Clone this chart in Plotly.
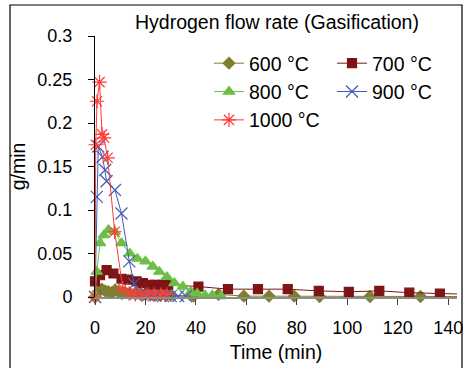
import plotly.graph_objects as go

# ---- data ----
t600 = [0, 1.3, 2.7, 4, 5.3, 6.7, 8, 9.3, 10.7, 12, 14, 16, 18, 20, 22, 24, 26, 28, 30, 39, 49, 59, 69, 79, 89, 109, 129, 150]
y600 = [0, 0.006, 0.009, 0.007, 0.006, 0.005, 0.008, 0.006, 0.004, 0.005, 0.004, 0.004, 0.003, 0.003, 0.003,
        0.002, 0.002, 0.002, 0.002, 0.001, 0.003, 0.001, 0.001, 0.001, 0.0005, 0.0005, 0.0005, 0.0005]

t700 = [0, 2, 4.6, 7.3, 10.5, 13.2, 16.5, 19, 21.5, 24, 26.5, 29, 41, 52.7, 64.6, 76.4, 88.7, 100.6, 112.7, 124.6, 136.7, 150]
y700 = [0.018, 0.025, 0.031, 0.027, 0.021, 0.02, 0.018, 0.016, 0.014, 0.014, 0.014, 0.014, 0.012, 0.009,
        0.009, 0.009, 0.007, 0.006, 0.007, 0.005, 0.004, 0.003]

t800 = [0, 0.7, 2, 3.5, 5.3, 7.8, 10.5, 13.8, 16.8, 20, 22.9, 25.5, 28.5, 31.5, 34.8, 38, 40.5, 43.6, 46.5, 50]
y800 = [0.002, 0.029, 0.062, 0.071, 0.077, 0.075, 0.062, 0.05, 0.044, 0.041, 0.035, 0.029, 0.023, 0.016,
        0.012, 0.006, 0.004, 0.002, 0.002, 0.001]

t900 = [0, 0.7, 1.3, 3, 4, 4.6, 7.9, 10.5, 13.6, 15.5, 18, 21, 24, 27, 30, 33, 36]
y900 = [0, 0.115, 0.173, 0.161, 0.146, 0.133, 0.123, 0.096, 0.041, 0.015, 0.004, 0.002, 0.002, 0.001,
        0.001, 0.001, 0.001]

t1000 = [0, 0.3, 0.8, 1.8, 2.8, 3.6, 5, 7.8, 11, 13.5, 16, 18.5, 21, 23.5, 26, 28.5]
y1000 = [0, 0.175, 0.225, 0.247, 0.187, 0.183, 0.16, 0.075, 0.01, 0.004, 0.003, 0.003, 0.003, 0.003, 0.003, 0.003]

x_ticks = [0, 20, 40, 60, 80, 100, 120, 140]
y_ticks = [0, 0.05, 0.1, 0.15, 0.2, 0.25, 0.3]
y_tick_text = ["0", "0.05", "0.1", "0.15", "0.2", "0.25", "0.3"]

FONT = "Liberation Sans, Arial, sans-serif"

series = [
    ("600 °C", t600, y600, "#7f7f2f", "diamond", 9, "legend"),
    ("700 °C", t700, y700, "#7f1416", "square", 9, "legend2"),
    ("800 °C", t800, y800, "#6cbf45", "triangle-up", 10, "legend"),
    ("900 °C", t900, y900, "#3f5bb5", "x-thin-open", 12, "legend2"),
    ("1000 °C", t1000, y1000, "#ff3b3b", "asterisk-open", 12, "legend"),
]

fig = go.Figure()
for name, xs, ys, col, sym, sz, lg in series:
    fig.add_trace(go.Scatter(
        x=xs, y=ys, name=name, mode="lines+markers",
        line=dict(color=col, width=1),
        marker=dict(symbol=sym, size=sz, color=col, line=dict(color=col, width=1.2)),
        cliponaxis=False, legend=lg,
    ))

W, H = 464, 368
L, R, T, B = 95, 7, 36, 71
pw, ph = W - L - R, H - T - B


def px(x):
    return (x - L) / pw


def py(y):
    return (H - B - y) / ph


fig.update_layout(
    width=W, height=H,
    margin=dict(l=L, r=R, t=T, b=B, pad=0, autoexpand=False),
    paper_bgcolor="white", plot_bgcolor="white",
    font=dict(family=FONT, size=18, color="black"),
    showlegend=True,
    legend=dict(x=px(209), y=py(44), xanchor="left", yanchor="top",
                bgcolor="rgba(0,0,0,0)", font=dict(size=19.5), tracegroupgap=0,
                itemwidth=30),
    legend2=dict(x=px(332), y=py(44), xanchor="left", yanchor="top",
                 bgcolor="rgba(0,0,0,0)", font=dict(size=19.5), tracegroupgap=0,
                 itemwidth=30),
    xaxis=dict(range=[0, 143.5], tickvals=x_ticks, showline=True, linecolor="#8c8c8c",
               linewidth=1.5, ticks="outside", ticklen=6, tickcolor="#404040",
               showgrid=False, zeroline=False, automargin=False, ticklabelstandoff=8,
               title=dict(text="Time (min)", font=dict(size=19.5), standoff=8)),
    yaxis=dict(range=[0, 0.3], tickvals=y_ticks, ticktext=y_tick_text, showline=True,
               linecolor="black", linewidth=1, ticks="outside", ticklen=6, tickcolor="black",
               showgrid=False, zeroline=False, ticklabelstandoff=12, automargin=False,
               title=dict(text="g/min", font=dict(size=19.5), standoff=6)),
    annotations=[dict(text="Hydrogen flow rate (Gasification)", xref="paper", yref="paper",
                      x=px(277), y=py(22), xanchor="center", yanchor="middle",
                      showarrow=False, font=dict(size=19.5))],
    shapes=[dict(type="rect", xref="paper", yref="paper",
                 x0=px(10), x1=px(462), y0=py(390), y1=py(5),
                 line=dict(color="black", width=1.2), fillcolor="rgba(0,0,0,0)", layer="below")],
)

fig.write_html("out.html", config={"displayModeBar": False},
               post_script="document.body.style.margin='0';document.body.style.overflow='hidden';")
